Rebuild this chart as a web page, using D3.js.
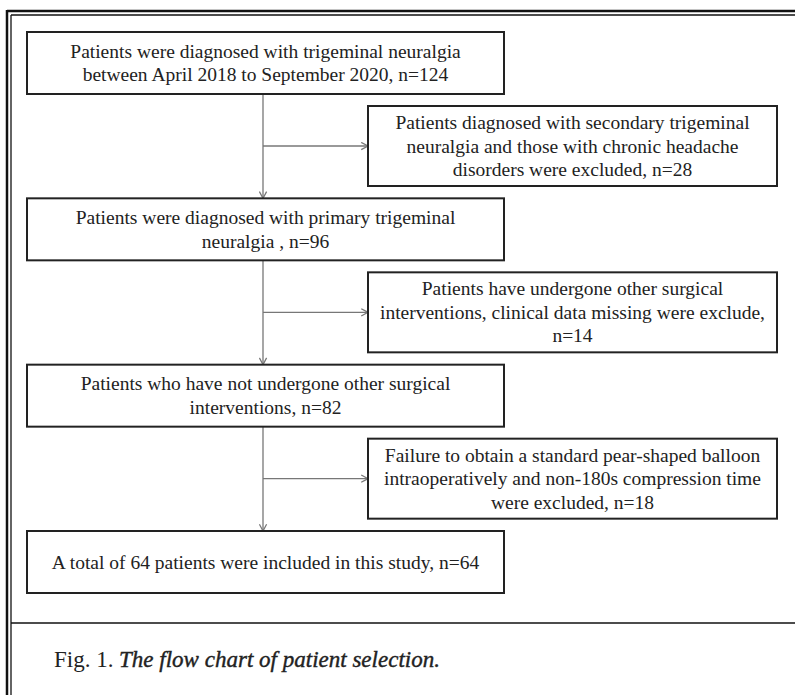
<!DOCTYPE html>
<html>
<head>
<meta charset="utf-8">
<script src="https://cdn.jsdelivr.net/npm/d3@7"></script>
<style>
  body { margin: 0; background: #fff; }
  text { font-family: "Liberation Serif", "Times New Roman", serif; fill: #222; }
</style>
</head>
<body>
<script>
var w = 795;
var h = 695;

// main flow steps (text lines per box)
var steps = [
  ["Patients were diagnosed with trigeminal neuralgia", "between April 2018 to September 2020, n=124"],
  ["Patients were diagnosed with primary trigeminal", "neuralgia , n=96"],
  ["Patients who have not undergone other surgical", "interventions, n=82"],
  ["A total of 64 patients were included in this study, n=64"]
];
var stepN = [124, 96, 82, 64];

// exclusion boxes
var exclusions = [
  ["Patients diagnosed with secondary trigeminal", "neuralgia and those with chronic headache", "disorders were excluded, n=28"],
  ["Patients have undergone other surgical", "interventions, clinical data missing were exclude,", "n=14"],
  ["Failure to obtain a standard pear-shaped balloon", "intraoperatively and non-180s compression time", "were excluded, n=18"]
];
var excludedN = [28, 14, 18];

var captionNum = "Fig. 1.";
var captionText = "The flow chart of patient selection.";

var svg = d3.select("body").append("svg")
  .attr("width", w)
  .attr("height", h);

svg.append("defs").append("marker")
  .attr("id", "arr")
  .attr("viewBox", "0 0 10 10")
  .attr("refX", 9.5).attr("refY", 5)
  .attr("markerWidth", 9).attr("markerHeight", 9)
  .attr("markerUnits", "userSpaceOnUse")
  .attr("orient", "auto")
  .append("path")
  .attr("d", "M2,1 L9.5,5 L2,9")
  .attr("fill", "none")
  .attr("stroke", "#777")
  .attr("stroke-width", 1.4);

// frame
svg.append("line").attr("x1", 7).attr("y1", 11).attr("x2", w).attr("y2", 11).attr("stroke", "#111").attr("stroke-width", 2.5);
svg.append("line").attr("x1", 11).attr("y1", 15).attr("x2", w).attr("y2", 15).attr("stroke", "#111").attr("stroke-width", 1.3);
svg.append("line").attr("x1", 7).attr("y1", 10).attr("x2", 7).attr("y2", h).attr("stroke", "#111").attr("stroke-width", 2.5);
svg.append("line").attr("x1", 11).attr("y1", 15).attr("x2", 11).attr("y2", h).attr("stroke", "#111").attr("stroke-width", 1.3);
svg.append("line").attr("x1", 11).attr("y1", 623).attr("x2", w).attr("y2", 623).attr("stroke", "#111").attr("stroke-width", 1.3);

var y = d3.scaleLinear().domain([0, steps.length - 1]).range([32, 531]);
var mainX = 27, mainW = 477, mainH = 62;
var sideX = 368, sideW = 409, sideH = 80;
var stemX = 263;
var lh = 23.5;
var fs = 19.5;

// connectors
steps.slice(1).forEach(function (d, i) {
  svg.append("line")
    .attr("x1", stemX).attr("y1", y(i) + mainH)
    .attr("x2", stemX).attr("y2", y(i + 1))
    .attr("stroke", "#777").attr("stroke-width", 1.3)
    .attr("marker-end", "url(#arr)");
});
exclusions.forEach(function (d, i) {
  var top = y(i) + mainH + 12;
  svg.append("line")
    .attr("x1", stemX).attr("y1", top + sideH / 2)
    .attr("x2", sideX).attr("y2", top + sideH / 2)
    .attr("stroke", "#777").attr("stroke-width", 1.3)
    .attr("marker-end", "url(#arr)");
});

// main boxes
var mb = svg.selectAll("g.main").data(steps).enter().append("g").attr("class", "main");
mb.append("rect")
  .attr("x", mainX).attr("y", function (d, i) { return y(i); })
  .attr("width", mainW).attr("height", mainH)
  .attr("fill", "#fff").attr("stroke", "#222").attr("stroke-width", 2);
mb.each(function (d, i) {
  var t0 = y(i) + mainH / 2 - (d.length - 1) * lh / 2 + 6.5;
  d3.select(this).selectAll("text").data(d).enter().append("text")
    .attr("x", mainX + mainW / 2)
    .attr("y", function (s, j) { return t0 + j * lh; })
    .attr("text-anchor", "middle")
    .attr("font-size", fs)
    .text(function (s) { return s; });
});

// exclusion boxes
var eb = svg.selectAll("g.excl").data(exclusions).enter().append("g").attr("class", "excl");
eb.append("rect")
  .attr("x", sideX).attr("y", function (d, i) { return y(i) + mainH + 12; })
  .attr("width", sideW).attr("height", sideH)
  .attr("fill", "#fff").attr("stroke", "#222").attr("stroke-width", 2);
eb.each(function (d, i) {
  var t0 = y(i) + mainH + 12 + sideH / 2 - (d.length - 1) * lh / 2 + 6.5;
  d3.select(this).selectAll("text").data(d).enter().append("text")
    .attr("x", sideX + sideW / 2)
    .attr("y", function (s, j) { return t0 + j * lh; })
    .attr("text-anchor", "middle")
    .attr("font-size", fs)
    .text(function (s) { return s; });
});

// caption
svg.append("text").attr("x", 54).attr("y", 667).attr("font-size", 23)
  .text(captionNum);
svg.append("text").attr("x", 119).attr("y", 667).attr("font-size", 23)
  .attr("font-style", "italic")
  .attr("stroke", "#222").attr("stroke-width", 0.4)
  .attr("textLength", 321).attr("lengthAdjust", "spacing")
  .text(captionText);
</script>
</body>
</html>
